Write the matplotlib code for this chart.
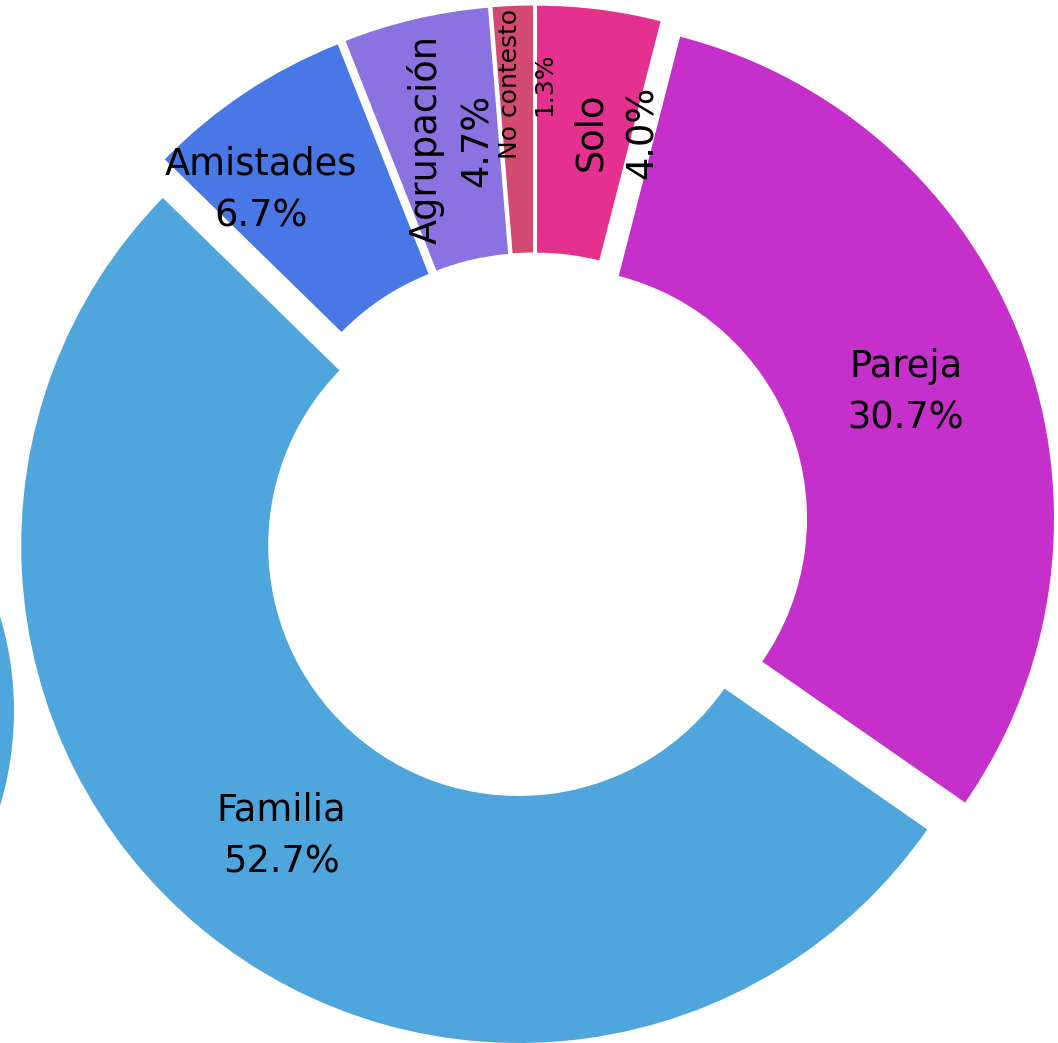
import matplotlib
matplotlib.use("Agg")
import matplotlib.pyplot as plt
from matplotlib.patches import Circle

# ---- data ----
labels = ["Solo", "Pareja", "Familia", "Amistades", "Agrupación", "No contesto"]
values = [4.0, 30.7, 52.7, 6.7, 4.7, 1.3]
pct_labels = ["4.0%", "30.7%", "52.7%", "6.7%", "4.7%", "1.3%"]
colors = ["#e5318e", "#c530cb", "#4fa6dc", "#4977e6", "#8a73e0", "#d24a70"]

# ---- layout (pixel-based) ----
W, H = 1058, 1043
fig = plt.figure(figsize=(W / 100, H / 100), dpi=100)
ax = fig.add_axes([0, 0, 1, 1])

R = 497.5
ring = 247
pull = 24
cx, cy = 534, H - 527

wedges, _ = ax.pie(values, radius=R, center=(cx, cy), startangle=90,
                   counterclock=False, explode=[pull] * len(values),
                   colors=colors, wedgeprops=dict(width=ring, linewidth=0))

# partially visible neighbouring shape at left edge
ax.add_patch(Circle((-315, H - 711), 329, color=colors[2], lw=0))

# ---- labels (text block centres, rotation, size) ----
text_pos = {
    "Solo": (616, 132, 90, 26.5),
    "Pareja": (906, 392, 0, 26.5),
    "Familia": (281, 836, 0, 26.5),
    "Amistades": (261, 190, 0, 26.5),
    "Agrupación": (451, 140, 90, 26.5),
    "No contesto": (527, 84, 90, 18),
}
for lab, pct in zip(labels, pct_labels):
    x, y, rot, fs = text_pos[lab]
    ax.text(x, H - y, f"{lab}\n{pct}", ha="center", va="center",
            rotation=rot, fontsize=fs, linespacing=1.5, color="black",
            family="DejaVu Sans", rotation_mode="anchor")

ax.set_xlim(0, W)
ax.set_ylim(0, H)
ax.set_aspect("equal")
ax.axis("off")
fig.savefig("out.png", dpi=100)
